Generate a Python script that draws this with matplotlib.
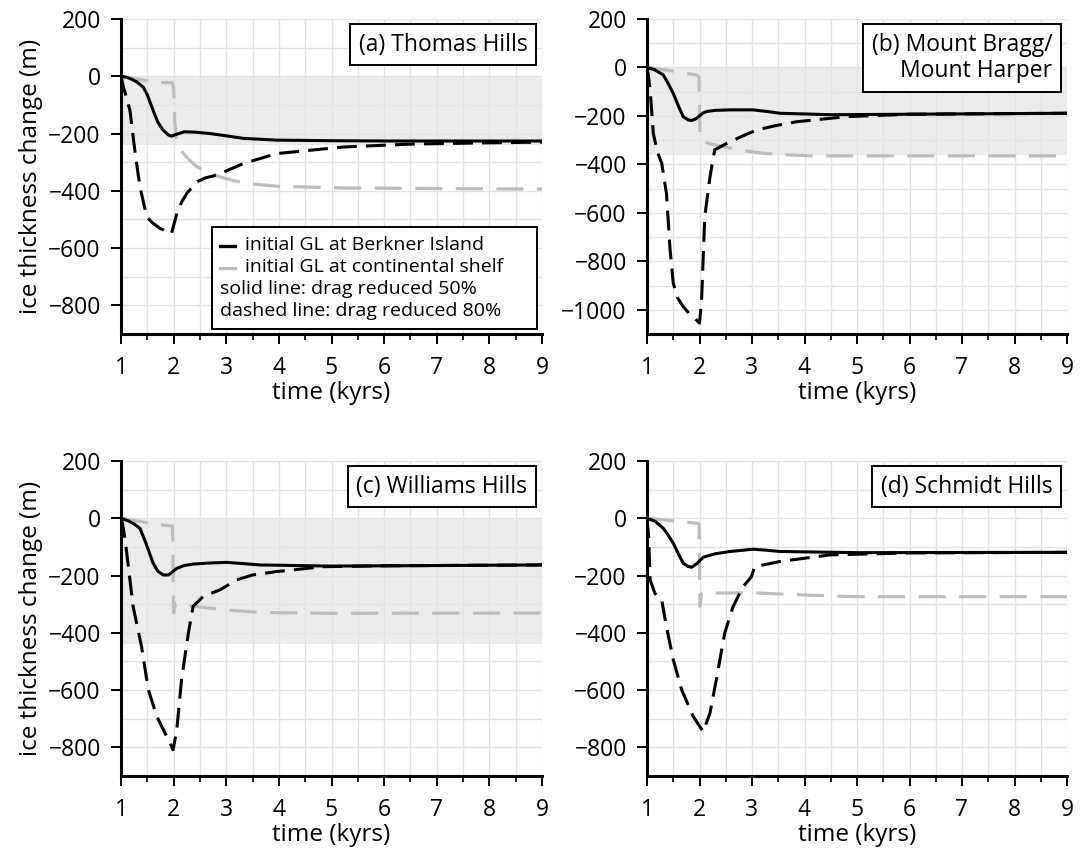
import numpy as np
import matplotlib
matplotlib.use("Agg")
import matplotlib.pyplot as plt
from matplotlib.lines import Line2D
from matplotlib.offsetbox import AnchoredOffsetbox, VPacker, HPacker, TextArea, DrawingArea
from matplotlib.ticker import MultipleLocator, FuncFormatter

plt.rcParams['font.family'] = ['Open Sans', 'DejaVu Sans']

# ---------------- data ----------------
panel_titles = ["(a) Thomas Hills", "(b) Mount Bragg/\nMount Harper", "(c) Williams Hills", "(d) Schmidt Hills"]
ylims = [(-900, 200), (-1100, 200), (-900, 200), (-900, 200)]
bands = [(-240, 0), (-360, 0), (-440, 0), None]

a_solid_t = [1.0, 1.1, 1.2, 1.3, 1.42, 1.5, 1.61, 1.7, 1.8, 1.9, 1.96, 2.05, 2.2, 2.4, 2.69, 3.0, 3.33, 3.96, 5, 6, 7, 8, 9]
a_solid_v = [0, -3, -10, -20, -37, -65, -119, -160, -188, -205, -209, -203, -194, -195, -200, -208, -217, -223, -225, -226, -226, -226, -226]
a_dash_t = [1.0, 1.05, 1.17, 1.27, 1.36, 1.49, 1.6, 1.74, 1.96, 2.06, 2.15, 2.25, 2.44, 2.6, 2.82, 3.32, 3.96, 5.22, 6.49, 7.76, 9.0]
a_dash_v = [0, -40, -119, -270, -386, -491, -512, -531, -549, -479, -440, -409, -369, -355, -345, -305, -270, -247, -237, -233, -230]
a_gray_t = [1.0, 1.3, 1.74, 1.97, 2.0, 2.02, 2.05, 2.12, 2.25, 2.4, 2.6, 2.88, 3.15, 3.45, 3.96, 5.2, 9.0]
a_gray_v = [0, -10, -22, -22, -40, -150, -220, -255, -283, -310, -333, -351, -365, -375, -384, -390, -394]

b_solid_t = [1.0, 1.15, 1.31, 1.4, 1.5, 1.6, 1.69, 1.78, 1.85, 1.93, 2.0, 2.07, 2.13, 2.3, 2.58, 3.02, 3.3, 3.53, 4.5, 6, 9]
b_solid_v = [0, -10, -31, -65, -107, -160, -203, -216, -219, -212, -200, -188, -182, -177, -175, -175, -182, -189, -195, -193, -189]
b_dash_t = [1.0, 1.03, 1.06, 1.12, 1.2, 1.28, 1.37, 1.44, 1.5, 1.58, 1.69, 1.8, 1.94, 2.0, 2.04, 2.1, 2.2, 2.29, 2.52, 2.8, 3.09, 3.45, 3.85, 4.8, 6, 9]
b_dash_v = [0, -40, -93, -272, -350, -395, -519, -753, -890, -950, -987, -1015, -1042, -1055, -960, -616, -451, -340, -313, -285, -258, -240, -224, -203, -193, -189]
b_gray_t = [1.0, 1.5, 1.94, 1.99, 2.01, 2.05, 2.2, 2.45, 2.8, 3.21, 3.6, 4.16, 9]
b_gray_v = [0, -15, -31, -40, -290, -305, -315, -327, -342, -354, -360, -365, -365]

c_solid_t = [1.0, 1.15, 1.25, 1.36, 1.48, 1.61, 1.7, 1.8, 1.9, 1.96, 2.06, 2.2, 2.37, 2.7, 3.0, 3.3, 3.64, 5, 9]
c_solid_v = [0, -10, -20, -35, -90, -157, -185, -198, -198, -190, -175, -165, -160, -156, -154, -158, -163, -167, -163]
c_dash_t = [1.0, 1.03, 1.08, 1.23, 1.39, 1.52, 1.68, 1.85, 1.99, 2.06, 2.15, 2.28, 2.37, 2.56, 2.88, 3.2, 3.5, 3.96, 4.85, 6, 9]
c_dash_v = [0, -20, -76, -308, -448, -599, -692, -755, -808, -739, -564, -401, -308, -273, -250, -215, -198, -186, -169, -166, -163]
c_gray_t = [1.0, 1.74, 1.98, 2.0, 2.04, 2.3, 2.69, 3.2, 3.64, 5, 9]
c_gray_v = [0, -23, -27, -330, -297, -305, -314, -323, -329, -332, -331]

d_solid_t = [1.0, 1.15, 1.31, 1.4, 1.5, 1.6, 1.69, 1.78, 1.85, 1.96, 2.07, 2.3, 2.58, 3.02, 3.3, 3.53, 5, 9]
d_solid_v = [0, -10, -35, -58, -87, -125, -157, -168, -171, -157, -136, -124, -116, -108, -112, -116, -120, -119]
d_dash_t = [1.0, 1.03, 1.06, 1.15, 1.28, 1.37, 1.5, 1.66, 1.88, 2.07, 2.2, 2.32, 2.48, 2.64, 2.83, 2.99, 3.05, 3.53, 4.48, 6, 9]
d_dash_v = [0, -60, -215, -262, -285, -378, -494, -599, -692, -745, -680, -564, -401, -308, -239, -204, -169, -151, -128, -121, -119]
d_gray_t = [1.0, 1.94, 1.99, 2.01, 2.04, 2.96, 3.85, 5, 9]
d_gray_v = [0, -17, -20, -308, -262, -260, -267, -274, -274]

series = [
    (a_solid_t, a_solid_v, a_dash_t, a_dash_v, a_gray_t, a_gray_v),
    (b_solid_t, b_solid_v, b_dash_t, b_dash_v, b_gray_t, b_gray_v),
    (c_solid_t, c_solid_v, c_dash_t, c_dash_v, c_gray_t, c_gray_v),
    (d_solid_t, d_solid_v, d_dash_t, d_dash_v, d_gray_t, d_gray_v),
]

legend_entries = ["initial GL at Berkner Island", "initial GL at continental shelf",
                  "solid line: drag reduced 50%", "dashed line: drag reduced 80%"]

# ---------------- layout ----------------
W, H = 1086, 850
fig = plt.figure(figsize=(W / 100, H / 100), dpi=100)

def box(l, r, t, b):
    return [l / W, 1 - b / H, (r - l) / W, (b - t) / H]

positions = [box(121, 542, 19, 334), box(647, 1067, 19, 334),
             box(121, 542, 461, 776), box(647, 1067, 461, 776)]

GRAY = '#bdbdbd'
TICK_FS = 16.5
LABEL_FS = 17.5
TITLE_FS = 16.5
PAD = 0.38

for i, (pos, ttl, yl, band, s) in enumerate(zip(positions, panel_titles, ylims, bands, series)):
    ax = fig.add_axes(pos)
    st, sv, dt, dv, gt, gv = s
    ax.set_xlim(1, 9)
    ax.set_ylim(*yl)
    if band is not None:
        ax.axhspan(band[0], band[1], color='#ebebeb', zorder=0, lw=0)
    ax.xaxis.set_major_locator(MultipleLocator(1))
    ax.xaxis.set_minor_locator(MultipleLocator(0.5))
    ax.yaxis.set_major_locator(MultipleLocator(200))
    ax.yaxis.set_minor_locator(MultipleLocator(100))
    ax.grid(True, which='both', color='#e2e2e2', lw=1.0, zorder=0.5)
    ax.set_axisbelow(True)
    for sp in ['top', 'right']:
        ax.spines[sp].set_visible(False)
    for sp in ['left', 'bottom']:
        ax.spines[sp].set_linewidth(2.2)
    ax.tick_params(axis='both', which='major', direction='out', length=7.5, width=1.4,
                   labelsize=TICK_FS)
    ax.tick_params(axis='y', which='major', pad=7)
    ax.tick_params(axis='x', which='major', pad=8)
    ax.tick_params(axis='x', which='minor', direction='out', length=4.5, width=1.2)
    ax.tick_params(axis='y', which='minor', length=0)
    ax.yaxis.set_major_formatter(FuncFormatter(
        lambda v, p: ('\u2212' if v < 0 else '') + f"{abs(int(round(v)))}"))

    ax.plot(gt, gv, color=GRAY, lw=2.3, dashes=(8.5, 4.2), zorder=3)
    ax.plot(dt, dv, color='black', lw=2.2, dashes=(6.5, 3.0), zorder=4)
    ax.plot(st, sv, color='black', lw=2.2, zorder=5)

    ax.set_xlabel("time (kyrs)", fontsize=LABEL_FS, labelpad=1)
    if i % 2 == 0:
        ax.set_ylabel("ice thickness change (m)", fontsize=LABEL_FS, labelpad=4)

    pad_px = PAD * TITLE_FS * 100 / 72
    ax.annotate(ttl, xy=(1, 1), xycoords='axes fraction',
                xytext=(-(5 + pad_px + 1), -(5 + pad_px)), textcoords='offset pixels',
                ha='right', va='top', fontsize=TITLE_FS, multialignment='right',
                zorder=10, linespacing=1.15,
                bbox=dict(boxstyle=f'square,pad={PAD}', facecolor='white', edgecolor='black', lw=1.4))

    if i == 0:
        tp = dict(fontsize=14, color='black')
        rows = []
        for col, txt in [('black', legend_entries[0]), (GRAY, legend_entries[1])]:
            da = DrawingArea(11, 10, 0, 0)
            da.add_artist(Line2D([0, 11], [4.5, 4.5], color=col, lw=2.4))
            rows.append(HPacker(children=[da, TextArea(txt, textprops=tp)], pad=0, sep=7, align='center'))
        rows.append(TextArea(legend_entries[2], textprops=tp))
        rows.append(TextArea(legend_entries[3], textprops=tp))
        vp = VPacker(children=rows, pad=0, sep=3, align='left')
        outer = HPacker(children=[vp, DrawingArea(18, 1, 0, 0)], pad=0, sep=0, align='top')
        ab = AnchoredOffsetbox(loc='lower right', child=outer, pad=0.62, borderpad=0,
                               frameon=True, bbox_to_anchor=(0.988, 0.016),
                               bbox_transform=ax.transAxes)
        ab.patch.set_boxstyle('square,pad=0')
        ab.patch.set_edgecolor('black')
        ab.patch.set_linewidth(1.4)
        ab.patch.set_facecolor('white')
        ab.set_zorder(10)
        ax.add_artist(ab)

fig.savefig("out.png", dpi=100)
